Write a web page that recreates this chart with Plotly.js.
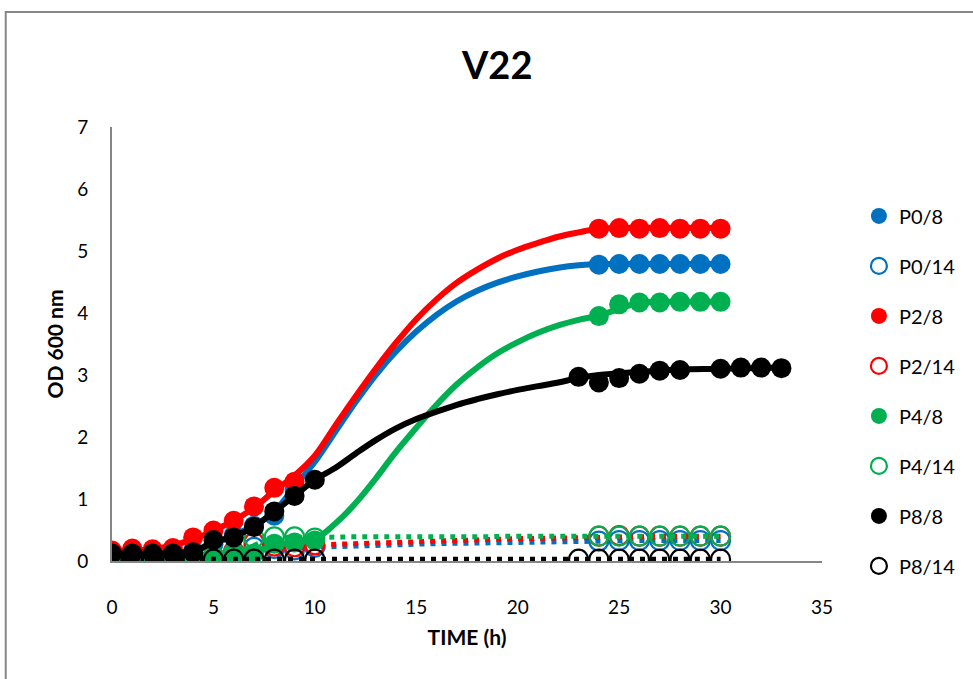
<!DOCTYPE html>
<html>
<head>
<meta charset="utf-8">
<script src="https://cdn.plot.ly/plotly-3.0.1.min.js"></script>
<style>html,body{margin:0;padding:0;background:#fff;}#chart{width:973px;height:679px;}</style>
</head>
<body>
<div id="chart"></div>
<script>
// ---- Measured points: time (h) ----
var timeA = [0,1,2,3,4,5,6,7,8,9,24,25,26,27,28,29,30];            // P0/8, P2/8
var timeB = [0,1,2,3,4,5,6,7,8,9,10,24,25,26,27,28,29,30];         // P4/8, P0/14, P2/14, P4/14
var timeC = [0,1,2,3,4,5,6,7,8,9,10,23,24,25,26,27,28,30,31,32,33]; // P8/8
var timeD = [0,1,2,3,4,5,6,7,8,9,10,23,24,25,26,27,28,29,30];      // P8/14

// ---- Measured points: OD 600 nm ----
var P0_8  = [0.10,0.10,0.11,0.12,0.17,0.27,0.42,0.57,0.73,1.15, 4.78,4.79,4.79,4.79,4.79,4.79,4.79];
var P2_8  = [0.17,0.20,0.19,0.21,0.38,0.49,0.65,0.88,1.18,1.28, 5.36,5.37,5.36,5.37,5.36,5.36,5.36];
var P4_8  = [0.07,0.07,0.07,0.07,0.08,0.10,0.10,0.12,0.28,0.30,0.33, 3.95,4.14,4.17,4.17,4.18,4.18,4.18];
var P8_8  = [0.12,0.12,0.12,0.12,0.14,0.34,0.38,0.55,0.80,1.05,1.31, 2.97,2.88,2.95,3.02,3.07,3.08,3.10,3.12,3.12,3.11];
var P0_14 = [0.04,0.04,0.04,0.04,0.05,0.07,0.12,0.22,0.20,0.18,0.22, 0.32,0.33,0.33,0.33,0.33,0.33,0.33];
var P2_14 = [0.05,0.05,0.05,0.05,0.06,0.09,0.16,0.30,0.24,0.23,0.26, 0.40,0.41,0.40,0.40,0.40,0.40,0.40];
var P4_14 = [0.05,0.05,0.05,0.05,0.06,0.08,0.14,0.37,0.39,0.39,0.37, 0.40,0.40,0.40,0.40,0.40,0.40,0.40];
var P8_14 = [0.03,0.03,0.03,0.03,0.03,0.03,0.03,0.03,0.03,0.03,0.03, 0.03,0.03,0.03,0.03,0.03,0.03,0.03,0.03];

// ---- Fitted growth curves ----
var fitTime8  = [0,2,4,5,6,7,8,9,10,11,12,13,14,15,16,17,18,19,20,21,22,23,24,26,28,30];
var fitP0_8   = [0.10,0.11,0.17,0.27,0.42,0.57,0.80,1.20,1.60,2.08,2.56,3.00,3.38,3.70,3.97,4.19,4.36,4.49,4.59,4.67,4.73,4.77,4.79,4.79,4.79,4.79];
var fitP2_8   = [0.17,0.19,0.35,0.49,0.65,0.86,1.13,1.38,1.70,2.18,2.65,3.10,3.52,3.90,4.22,4.49,4.70,4.88,5.02,5.13,5.23,5.30,5.36,5.37,5.37,5.37];
var fitP4_8   = [0.07,0.07,0.08,0.10,0.10,0.14,0.25,0.30,0.35,0.60,0.93,1.33,1.76,2.15,2.52,2.85,3.12,3.35,3.53,3.68,3.80,3.89,3.96,4.16,4.18,4.18];
var fitTimeP8 = [0,2,4,5,6,7,8,9,10,11,12,13,14,15,16,17,18,19,20,21,22,23,24,26,28,30,33];
var fitP8_8   = [0.12,0.12,0.16,0.30,0.40,0.55,0.80,1.05,1.31,1.50,1.73,1.95,2.14,2.29,2.41,2.52,2.61,2.69,2.76,2.82,2.88,2.95,3.00,3.05,3.09,3.10,3.12];
var fitTime14 = [0,2,4,6,8,10,12,14,16,18,20,22,24,26,28,30];
var fitP0_14  = [0.04,0.04,0.05,0.10,0.18,0.22,0.24,0.26,0.28,0.29,0.30,0.31,0.32,0.33,0.33,0.33];
var fitP2_14  = [0.05,0.05,0.06,0.14,0.24,0.26,0.28,0.30,0.32,0.34,0.36,0.37,0.38,0.39,0.40,0.40];
var fitP4_14  = [0.05,0.05,0.06,0.14,0.36,0.38,0.39,0.39,0.39,0.39,0.40,0.40,0.40,0.40,0.40,0.40];
var fitP8_14  = [0.03,0.03,0.03,0.03,0.03,0.03,0.03,0.03,0.03,0.03,0.03,0.03,0.03,0.03,0.03,0.03];

var seriesNames = ["P0/8","P0/14","P2/8","P2/14","P4/8","P4/14","P8/8","P8/14"];
var seriesX = [timeA, timeB, timeA, timeB, timeB, timeB, timeC, timeD];
var seriesY = [P0_8, P0_14, P2_8, P2_14, P4_8, P4_14, P8_8, P8_14];
var fitX = [fitTime8, fitTime14, fitTime8, fitTime14, fitTime8, fitTime14, fitTimeP8, fitTime14];
var fitY = [fitP0_8, fitP0_14, fitP2_8, fitP2_14, fitP4_8, fitP4_14, fitP8_8, fitP8_14];
var seriesColors = ["#0070C0","#0070C0","#FF0000","#FF0000","#00B050","#00B050","#000000","#000000"];
var seriesOpen = [false,true,false,true,false,true,false,true];

var FONT = "Lato, 'Liberation Sans', sans-serif";
var traces = [];
for (var i = 0; i < seriesNames.length; i++) {
  var c = seriesColors[i];
  var open = seriesOpen[i];
  traces.push({
    x: fitX[i], y: fitY[i], type: "scatter", mode: "lines",
    name: seriesNames[i] + " fit", legendgroup: seriesNames[i], showlegend: false, hoverinfo: "skip",
    line: open ? {color: c, width: 5, shape: "spline", smoothing: 1, dash: "5px,6px"}
               : {color: c, width: 6, shape: "spline", smoothing: 1}
  });
  traces.push({
    x: seriesX[i], y: seriesY[i], type: "scatter", mode: "markers",
    name: seriesNames[i], legendgroup: seriesNames[i], showlegend: true,
    marker: open ? {symbol: "circle-open", size: 19, color: c, line: {color: c, width: 2.2}}
                 : {symbol: "circle", size: 20, color: c}
  });
}

var layout = {
  width: 973, height: 679,
  paper_bgcolor: "#ffffff", plot_bgcolor: "#ffffff",
  margin: {l: 112, r: 146, t: 127, b: 118},
  font: {family: FONT, size: 18, color: "#000"},
  title: {text: "<b>V22</b>", font: {family: FONT, size: 38, color: "#000"},
          x: 0.511, xref: "container", xanchor: "center", y: 0.903, yref: "container", yanchor: "middle"},
  xaxis: {range: [0, 35], tickvals: [0,5,10,15,20,25,30,35], showgrid: false, zeroline: false,
          showline: true, linecolor: "#868686", linewidth: 2, ticks: "", ticklabelstandoff: 28,
          tickfont: {family: FONT, size: 19, color: "#000"},
          title: {text: "<b>TIME (h)</b>", font: {family: FONT, size: 21, color: "#000"}, standoff: 14}},
  yaxis: {range: [0, 7], tickvals: [0,1,2,3,4,5,6,7], showgrid: false, zeroline: false,
          showline: true, linecolor: "#868686", linewidth: 2, ticks: "", ticklabelstandoff: 18,
          tickfont: {family: FONT, size: 19, color: "#000"},
          title: {text: "<b>OD 600 nm</b>", font: {family: FONT, size: 21, color: "#000"}, standoff: 8}},
  legend: {x: 1.052, xanchor: "left", y: 0.84, yanchor: "top", traceorder: "grouped",
           tracegroupgap: 21, font: {family: FONT, size: 20, color: "#000"}, bgcolor: "rgba(0,0,0,0)"},
  shapes: [{type: "rect", xref: "paper", yref: "paper", x0: -0.1497, x1: 1.23, y0: -0.32, y1: 1.265,
            line: {color: "#868686", width: 2}, fillcolor: "rgba(0,0,0,0)", layer: "below"}],
  showlegend: true
};

Plotly.newPlot("chart", traces, layout, {displayModeBar: false, staticPlot: true});
</script>
</body>
</html>
